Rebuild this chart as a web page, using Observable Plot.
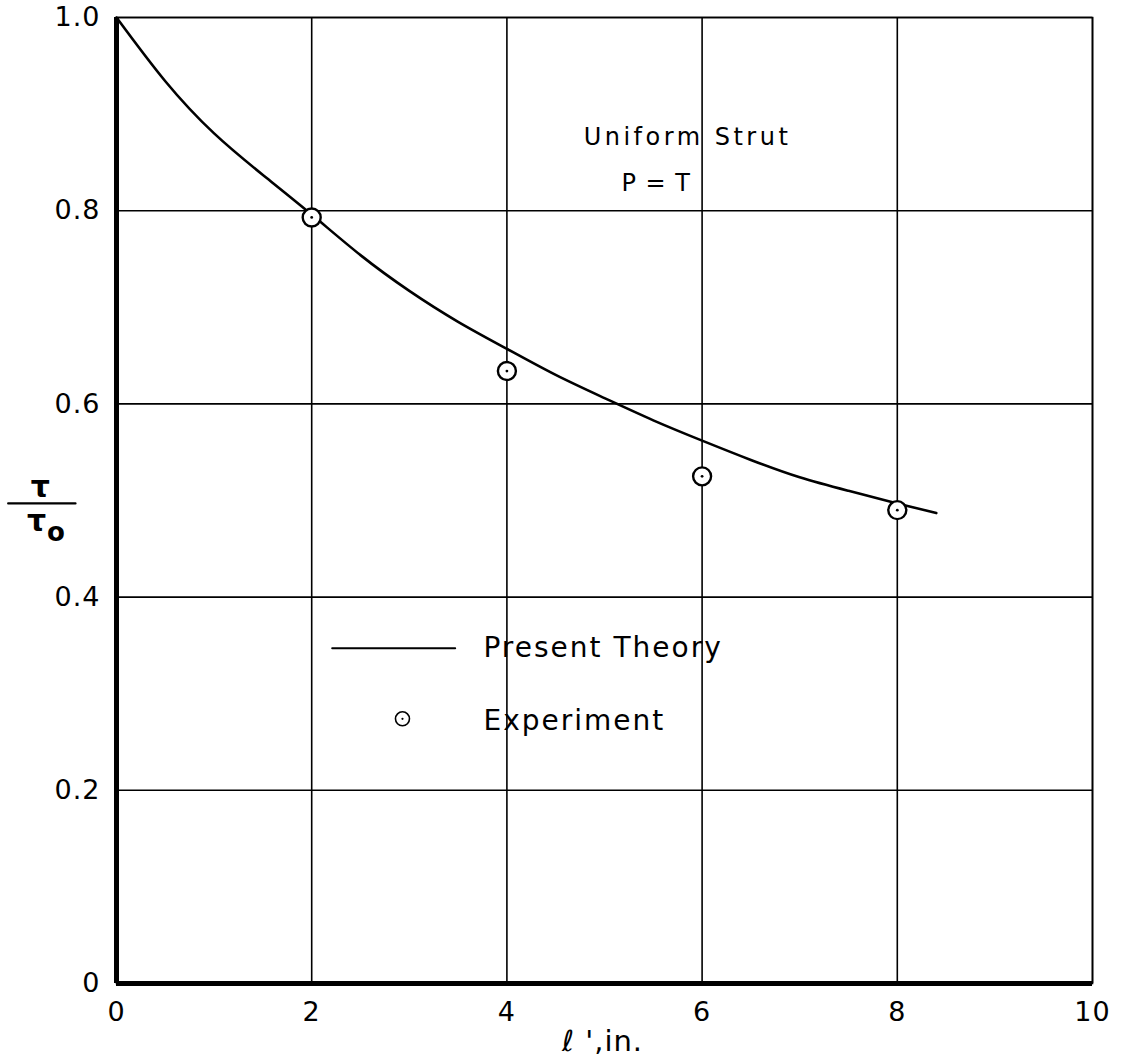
<!DOCTYPE html>
<html>
<head>
<meta charset="utf-8">
<script src="https://cdn.jsdelivr.net/npm/d3@7"></script>
<script src="https://cdn.jsdelivr.net/npm/@observablehq/plot@0.6"></script>
<style>
  html, body { margin: 0; padding: 0; background: #fff; }
  #chart svg { display: block; }
  .ls2 text { letter-spacing: 2px; }
  .ls35 text { letter-spacing: 3.5px; }
  .ls1 text { letter-spacing: 1px; }
</style>
</head>
<body>
<div id="chart"></div>
<script>
// Present Theory curve
const theoryX = [0, 0.5, 1.0, 1.5, 2.0, 2.5, 3.0, 3.5, 4.0, 4.5, 5.0, 5.5, 6.0, 6.5, 7.0, 7.5, 8.0, 8.4];
const theoryY = [1.000, 0.934, 0.880, 0.837, 0.796, 0.754, 0.717, 0.685, 0.657, 0.630, 0.606, 0.583, 0.562, 0.542, 0.524, 0.510, 0.497, 0.487];

// Experiment points
const expX = [2, 4, 6, 8];
const expY = [0.793, 0.634, 0.525, 0.490];

// Tick values
const xTicks = [0, 2, 4, 6, 8, 10];
const yTicks = [0, 0.2, 0.4, 0.6, 0.8, 1.0];

const theory = theoryX.map((x, i) => ({x, y: theoryY[i]}));
const experiment = expX.map((x, i) => ({x, y: expY[i]}));

const font = "'DejaVu Sans', 'Noto Sans', sans-serif";

const chart = Plot.plot({
  width: 1124,
  height: 1061,
  marginLeft: 116,
  marginRight: 32,
  marginTop: 17,
  marginBottom: 78,
  style: {fontFamily: font, fontSize: "26px", background: "#fff", color: "#000"},
  x: {domain: [0, 10]},
  y: {domain: [0, 1]},
  marks: [
    Plot.gridX(xTicks, {stroke: "#000", strokeOpacity: 1, strokeWidth: 1.6}),
    Plot.gridY(yTicks, {stroke: "#000", strokeOpacity: 1, strokeWidth: 1.6}),
    Plot.frame({stroke: "#000", strokeWidth: 1.6}),
    Plot.ruleX([0], {stroke: "#000", strokeWidth: 5}),
    Plot.ruleY([0], {stroke: "#000", strokeWidth: 5}),
    Plot.axisX(xTicks, {tickSize: 0, tickPadding: 18, fontSize: 27, label: null, tickFormat: d => String(d), className: "ls1"}),
    Plot.axisY(yTicks, {tickSize: 0, tickPadding: 16, fontSize: 27, label: null, className: "ls1",
      tickFormat: d => d === 0 ? "0" : d.toFixed(1)}),
    // theory curve
    Plot.line(theory, {x: "x", y: "y", stroke: "#000", strokeWidth: 2.6, curve: "natural"}),
    // experiment markers
    Plot.dot(experiment, {x: "x", y: "y", r: 9, stroke: "#000", strokeWidth: 2.4, fill: "#fff"}),
    Plot.dot(experiment, {x: "x", y: "y", r: 1.4, fill: "#000"}),
    // annotation
    Plot.text(["Uniform Strut"], {x: 5.85, y: 0.876, text: d => d, fontSize: 24, textAnchor: "middle", fill: "#000", className: "ls35"}),
    Plot.text(["P = T"], {x: 5.53, y: 0.828, text: d => d, fontSize: 24, textAnchor: "middle", fill: "#000", className: "ls1"}),
    // legend
    Plot.line([{x: 2.21, y: 0.347}, {x: 3.47, y: 0.347}], {x: "x", y: "y", stroke: "#000", strokeWidth: 2}),
    Plot.text(["Present Theory"], {x: 3.76, y: 0.347, text: d => d, fontSize: 28, textAnchor: "start", fill: "#000", className: "ls2"}),
    Plot.dot([{x: 2.93, y: 0.274}], {x: "x", y: "y", r: 7, stroke: "#000", strokeWidth: 1.6, fill: "#fff"}),
    Plot.dot([{x: 2.93, y: 0.274}], {x: "x", y: "y", r: 1.1, fill: "#000"}),
    Plot.text(["Experiment"], {x: 3.76, y: 0.272, text: d => d, fontSize: 28, textAnchor: "start", fill: "#000", className: "ls2"}),
    // y axis label τ/τo
    Plot.text(["τ"], {x: -0.78, y: 0.514, text: d => d, fontSize: 30, fontWeight: "bold", textAnchor: "middle", fill: "#000"}),
    Plot.line([{x: -1.11, y: 0.497}, {x: -0.42, y: 0.497}], {x: "x", y: "y", stroke: "#000", strokeWidth: 2.2}),
    Plot.text(["τ"], {x: -0.82, y: 0.478, text: d => d, fontSize: 30, fontWeight: "bold", textAnchor: "middle", fill: "#000"}),
    Plot.text(["o"], {x: -0.62, y: 0.467, text: d => d, fontSize: 26, fontWeight: "bold", textAnchor: "middle", fill: "#000"}),
    // x axis label
    Plot.text(["ℓ ',in."], {x: 4.98, y: -0.06, text: d => d, fontSize: 29, textAnchor: "middle", fill: "#000", className: "ls1"})
  ]
});
document.getElementById("chart").appendChild(chart);
</script>
</body>
</html>
